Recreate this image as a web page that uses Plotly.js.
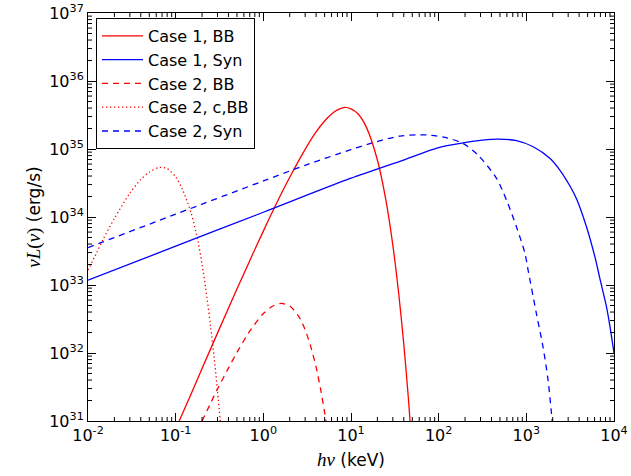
<!DOCTYPE html>
<html>
<head>
<meta charset="utf-8">
<script src="https://cdn.plot.ly/plotly-3.0.1.min.js"></script>
<style>html,body{margin:0;padding:0;background:#fff;}#plot{width:631px;height:476px;}</style>
</head>
<body>
<div id="plot"></div>
<script>
// Case 1, BB (photon energy keV, nuL(nu) erg/s)
const case1BB_x = [0.1, 0.15, 0.2, 0.3, 0.5, 0.7, 1, 1.5, 2, 3, 4, 5, 6, 7, 8.5, 10, 12, 15, 20, 25, 30, 35, 40, 45, 50];
const case1BB_y = [7.6e30, 2.5e31, 5.9e31, 1.96e32, 8.7e32, 2.28e33, 6.2e33, 1.85e34, 3.84e34, 9.9e34, 1.78e35, 2.58e35, 3.27e35, 3.77e35, 4.1e35, 3.9e35, 3.3e35, 2.08e35, 6.9e34, 1.77e34, 3.85e33, 7.5e32, 1.35e32, 2.27e31, 3.6e30];

// Case 1, Syn
const case1Syn_x = [0.01, 0.1, 1, 10, 36.1, 100, 191, 316, 479, 773, 1197, 1854, 2410, 3133, 3733, 4853, 6040, 6887, 8204, 8913, 10000];
const case1Syn_y = [1.175e33, 3.72e33, 1.175e34, 3.72e34, 6.6e34, 1.05e35, 1.23e35, 1.35e35, 1.40e35, 1.325e35, 1.08e35, 7.3e34, 4.9e34, 2.88e34, 1.86e34, 7.2e33, 2.63e33, 1.26e33, 4.8e32, 2.63e32, 1.0e32];

// Case 2, BB
const case2BB_x = [0.2, 0.25, 0.3, 0.4, 0.5, 0.7, 1.0, 1.3, 1.6, 2.0, 2.5, 3.0, 3.5, 4.0, 4.5, 5.0, 5.5];
const case2BB_y = [1.0e31, 1.82e31, 2.95e31, 6.0e31, 1.02e32, 2.09e32, 3.8e32, 4.95e32, 5.37e32, 4.9e32, 3.55e32, 2.19e32, 1.2e32, 6.2e31, 2.95e31, 1.33e31, 5.9e30];

// Case 2, c,BB
const case2cBB_x = [0.01, 0.0125, 0.015, 0.02, 0.03, 0.04, 0.05, 0.066, 0.08, 0.1, 0.12, 0.15, 0.18, 0.2, 0.22, 0.25, 0.28, 0.3, 0.33];
const case2cBB_y = [1.66e33, 2.95e33, 4.8e33, 9.5e33, 2.24e34, 3.55e34, 4.57e34, 5.37e34, 5.13e34, 3.89e34, 2.51e34, 1.15e34, 4.37e33, 2.0e33, 8.9e32, 2.5e32, 6.8e31, 2.75e31, 7.1e30];

// Case 2, Syn
const case2Syn_x = [0.01, 0.1, 1, 3.16, 10, 16.4, 36.1, 72.8, 126, 191, 282, 457, 593, 771, 962, 1047, 1303, 1549, 1770, 1936, 2089];
const case2Syn_y = [3.55e33, 1.10e34, 3.39e34, 5.9e34, 9.8e34, 1.20e35, 1.55e35, 1.61e35, 1.45e35, 1.20e35, 8.1e34, 3.7e34, 1.78e34, 7.2e33, 2.95e33, 1.66e33, 3.8e32, 1.23e32, 4.0e31, 1.29e31, 5e30];

const xTickVals = [0.01, 0.1, 1, 10, 100, 1000, 10000];
const xTickText = ['10<sup>-2</sup>', '10<sup>-1</sup>', '10<sup>0</sup>', '10<sup>1</sup>', '10<sup>2</sup>', '10<sup>3</sup>', '10<sup>4</sup>'];
const yTickVals = [1e31, 1e32, 1e33, 1e34, 1e35, 1e36, 1e37];
const yTickText = ['10<sup>31</sup>', '10<sup>32</sup>', '10<sup>33</sup>', '10<sup>34</sup>', '10<sup>35</sup>', '10<sup>36</sup>', '10<sup>37</sup>'];

const names = ['Case 1, BB', 'Case 1, Syn', 'Case 2, BB', 'Case 2, c,BB', 'Case 2, Syn'];

// minor tick positions (2..9 within each decade), in data units
function minorTicks(majors) {
  const out = [];
  for (let i = 0; i < majors.length - 1; i++) {
    for (let k = 2; k <= 9; k++) out.push(majors[i] * k);
  }
  return out;
}

const plotW = 631 - 88 - 17, plotH = 476 - 13 - 55;
const minorLen = 4;
const shapes = [];
minorTicks(xTickVals).forEach(v => {
  const fy = minorLen / plotH;
  shapes.push({type: 'line', xref: 'x', yref: 'paper', x0: v, x1: v, y0: 0, y1: fy, line: {color: '#000', width: 1}});
  shapes.push({type: 'line', xref: 'x', yref: 'paper', x0: v, x1: v, y0: 1, y1: 1 - fy, line: {color: '#000', width: 1}});
});
minorTicks(yTickVals).forEach(v => {
  const fx = minorLen / plotW;
  shapes.push({type: 'line', xref: 'paper', yref: 'y', x0: 0, x1: fx, y0: v, y1: v, line: {color: '#000', width: 1}});
  shapes.push({type: 'line', xref: 'paper', yref: 'y', x0: 1, x1: 1 - fx, y0: v, y1: v, line: {color: '#000', width: 1}});
});

const lw = 1.3;
const traces = [
  {x: case1BB_x, y: case1BB_y, name: names[0], line: {color: '#ff0000', width: lw}},
  {x: case1Syn_x, y: case1Syn_y, name: names[1], line: {color: '#0000ff', width: lw}},
  {x: case2BB_x, y: case2BB_y, name: names[2], line: {color: '#ff0000', width: lw, dash: '6px,5px'}},
  {x: case2cBB_x, y: case2cBB_y, name: names[3], line: {color: '#ff0000', width: lw, dash: '1.3px,2.7px'}},
  {x: case2Syn_x, y: case2Syn_y, name: names[4], line: {color: '#0000ff', width: lw, dash: '6px,5px'}}
].map(t => { t.line.shape = 'spline'; t.line.smoothing = 0.8; return Object.assign({type: 'scatter', mode: 'lines'}, t); });

const font = {family: 'DejaVu Sans, sans-serif', color: '#000'};
const axisCommon = {
  type: 'log',
  showline: true, linecolor: '#000', linewidth: 1,
  mirror: 'ticks', ticks: 'inside', ticklen: 8, tickwidth: 1, tickcolor: '#000',
  showgrid: false, zeroline: false,
  tickmode: 'array',
  tickfont: Object.assign({size: 16}, font)
};

const mathFont = "font-family:'Liberation Serif',serif";
const layout = {
  width: 631, height: 476,
  margin: {l: 88, r: 17, t: 13, b: 55},
  paper_bgcolor: '#fff', plot_bgcolor: '#fff',
  font: font,
  showlegend: true,
  shapes: shapes,
  legend: {
    x: 0.0152, y: 0.988, xanchor: 'left', yanchor: 'top',
    bordercolor: '#000', borderwidth: 1, bgcolor: '#fff',
    font: Object.assign({size: 16}, font),
    itemwidth: 41,
    tracegroupgap: 0
  },
  xaxis: Object.assign({}, axisCommon, {
    range: [-2, 4], tickvals: xTickVals, ticktext: xTickText,
    title: {text: '<span style="' + mathFont + ';font-size:19px"><i>hν</i></span> (keV)', font: Object.assign({size: 17}, font), standoff: 9},
    automargin: false
  }),
  yaxis: Object.assign({}, axisCommon, {
    range: [31, 37], tickvals: yTickVals, ticktext: yTickText,
    title: {text: '<span style="' + mathFont + ';font-size:19px"><i>νL</i>(<i>ν</i>)</span> (erg/s)', font: Object.assign({size: 17}, font), standoff: 4},
    automargin: false
  })
};

Plotly.newPlot('plot', traces, layout, {staticPlot: true, displayModeBar: false});
</script>
</body>
</html>
